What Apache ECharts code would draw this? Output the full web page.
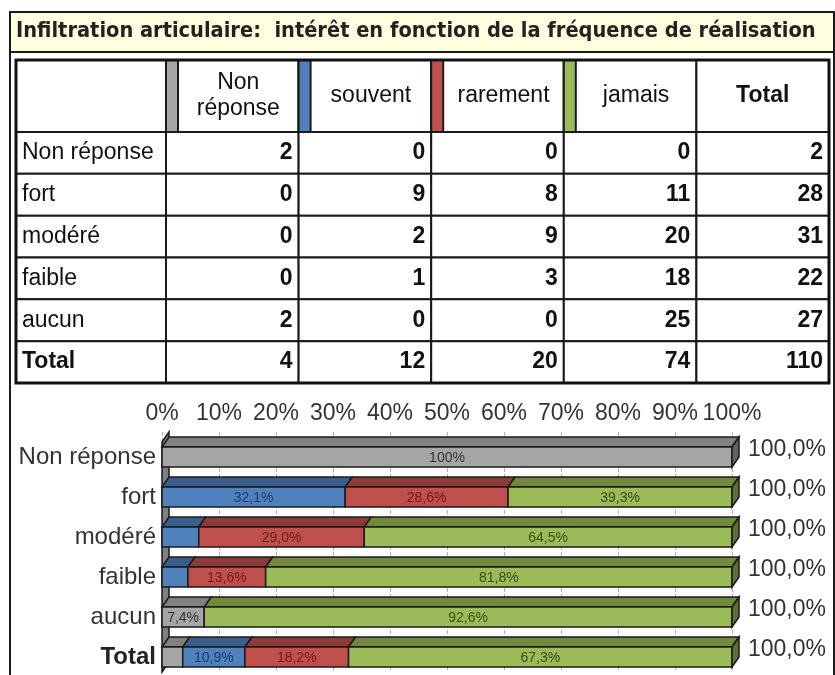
<!DOCTYPE html>
<html>
<head>
<meta charset="utf-8">
<script src="https://cdn.jsdelivr.net/npm/echarts@6/dist/echarts.min.js"></script>
<style>
  html, body { margin: 0; padding: 0; background: #fff; }
  #chart { width: 835px; height: 675px; }
</style>
</head>
<body>
<div id="chart"></div>
<script>
// rows of the table / categories of the bar chart
const rowNames = ['Non réponse', 'fort', 'modéré', 'faible', 'aucun', 'Total'];
// table columns
const colNames = ['Non\nréponse', 'souvent', 'rarement', 'jamais', 'Total'];
const nonReponse = [2, 0, 0, 0, 2, 4];
const souvent = [0, 9, 2, 1, 0, 12];
const rarement = [0, 8, 9, 3, 0, 20];
const jamais = [0, 11, 20, 18, 25, 74];
const totalCol = [2, 28, 31, 22, 27, 110];

const tableCols = [nonReponse, souvent, rarement, jamais, totalCol];
const stackCols = [nonReponse, souvent, rarement, jamais];

const frontColors = ['#A5A5A5', '#4F81BD', '#C0504D', '#9BBB59'];
const topColors = ['#808080', '#3B5F8D', '#8D3B39', '#71893F'];
const sideColors = ['#626262', '#2F4C72', '#722F2E', '#5C7033'];
const labelColors = ['#333333', '#1F3A6B', '#6E1C1A', '#3A4D16'];

const DX = 7, DY = 10, FRONT_H = 20;
const LABEL_W = 150, HEADER_H = 72, STRIP_W = 12;
const FONT = "'Liberation Sans', Arial, sans-serif";
const LINE = '#1a1a1a';

function fmt(v) {
  return v >= 99.95 ? '100%' : v.toFixed(1).replace('.', ',') + '%';
}

// percentages per row
const pct = stackCols.map(col => col.map((n, r) => n / totalCol[r] * 100));

function barRender(s) {
  return function (params, api) {
    const r = api.value(0), v0 = api.value(1), v1 = api.value(2), v = api.value(3);
    if (v <= 0) return;
    const a = api.coord([v0, r]);
    const b = api.coord([v1, r]);
    const xl = a[0], xr = b[0];
    const yt = a[1] - 5, yb = yt + FRONT_H;
    const children = [
      { type: 'polygon', shape: { points: [[xl, yt], [xr, yt], [xr + DX, yt - DY], [xl + DX, yt - DY]] },
        style: { fill: topColors[s], stroke: LINE, lineWidth: 1.5 } },
      { type: 'rect', shape: { x: xl, y: yt, width: xr - xl, height: FRONT_H },
        style: { fill: frontColors[s], stroke: LINE, lineWidth: 1.5 } }
    ];
    if (v1 > 99.9) {
      children.push({ type: 'polygon', shape: { points: [[xr, yt], [xr + DX, yt - DY], [xr + DX, yb - DY], [xr, yb]] },
        style: { fill: sideColors[s], stroke: LINE, lineWidth: 1.5 } });
    }
    if (v >= 7) {
      children.push({ type: 'text', x: (xl + xr) / 2, y: yt + FRONT_H / 2 + 1,
        style: { text: fmt(v), fill: labelColors[s], font: '14px ' + FONT,
          align: 'center', verticalAlign: 'middle' } });
    }
    return { type: 'group', children };
  };
}

const barSeries = stackCols.map((col, s) => ({
  name: colNames[s],
  type: 'custom',
  xAxisIndex: 0, yAxisIndex: 0,
  renderItem: barRender(s),
  encode: { x: [1, 2], y: 0 },
  z: 3,
  data: rowNames.map((_, r) => {
    let start = 0;
    for (let k = 0; k < s; k++) start += pct[k][r];
    return [r, start, start + pct[s][r], pct[s][r]];
  })
}));

const rowSums = rowNames.map((_, r) => pct.reduce((acc, p) => acc + p[r], 0));

const endLabels = {
  type: 'custom',
  xAxisIndex: 0, yAxisIndex: 0,
  encode: { x: 1, y: 0 },
  z: 4,
  data: rowNames.map((_, r) => [r, rowSums[r]]),
  renderItem: function (params, api) {
    const p = api.coord([api.value(1), api.value(0)]);
    return { type: 'text', x: p[0] + DX + 9, y: p[1] - 2,
      style: { text: api.value(1).toFixed(1).replace('.', ',') + '%', fill: '#333', font: '23px ' + FONT,
        align: 'left', verticalAlign: 'middle' } };
  }
};

const walls = {
  type: 'custom',
  xAxisIndex: 0, yAxisIndex: 0,
  encode: { x: 0, y: 1 },
  z: 2,
  silent: true,
  data: [[0, 0]],
  renderItem: function (params) {
    const cs = params.coordSys;
    return { type: 'polygon',
      shape: { points: [[cs.x, cs.y + DY], [cs.x + DX, cs.y], [cs.x + DX, cs.y + cs.height - DY], [cs.x, cs.y + cs.height]] },
      style: { fill: '#808080', stroke: LINE, lineWidth: 1.5 } };
  }
};

// table
const tableData = [];
rowNames.forEach((_, r) => tableCols.forEach((col, c) => tableData.push([c, r, col[r]])));

function cell(x, y, w, h) {
  return { type: 'rect', shape: { x, y, width: w, height: h }, style: { fill: '#fff', stroke: LINE, lineWidth: 2 } };
}

const tableSeries = {
  type: 'custom',
  xAxisIndex: 1, yAxisIndex: 1,
  encode: { x: 0, y: 1 },
  z: 3,
  data: tableData,
  renderItem: function (params, api) {
    const c = api.value(0), r = api.value(1), v = api.value(2);
    const p = api.coord([c, r]);
    const sz = api.size([1, 1]);
    const w = sz[0], h = sz[1];
    const x0 = p[0] - w / 2, y0 = p[1] - h / 2;
    const children = [];
    if (r === 0) {
      children.push(cell(x0, y0 - HEADER_H, w, HEADER_H));
      let tx = x0 + w / 2;
      if (c < 4) {
        children.push({ type: 'rect', shape: { x: x0, y: y0 - HEADER_H, width: STRIP_W, height: HEADER_H },
          style: { fill: frontColors[c], stroke: LINE, lineWidth: 2 } });
        tx = x0 + STRIP_W + (w - STRIP_W) / 2;
      }
      children.push({ type: 'text', x: tx, y: y0 - HEADER_H / 2,
        style: { text: colNames[c], fill: '#111', font: (c === 4 ? 'bold ' : '') + '23px ' + FONT,
          lineHeight: 26, align: 'center', verticalAlign: 'middle' } });
      if (c === 0) children.push(cell(x0 - LABEL_W, y0 - HEADER_H, LABEL_W, HEADER_H));
    }
    if (c === 0) {
      children.push(cell(x0 - LABEL_W, y0, LABEL_W, h));
      children.push({ type: 'text', x: x0 - LABEL_W + 6, y: p[1],
        style: { text: rowNames[r], fill: '#111', font: (r === 5 ? 'bold ' : '') + '23px ' + FONT,
          align: 'left', verticalAlign: 'middle' } });
    }
    children.push(cell(x0, y0, w, h));
    children.push({ type: 'text', x: x0 + w - 6, y: p[1],
      style: { text: String(v), fill: '#111', font: 'bold 23px ' + FONT, align: 'right', verticalAlign: 'middle' } });
    return { type: 'group', children };
  }
};

const chart = echarts.init(document.getElementById('chart'));
chart.setOption({
  backgroundColor: '#fff',
  animation: false,
  title: {
    text: 'Infiltration articulaire:  intérêt en fonction de la fréquence de réalisation',
    left: 11, top: 20, padding: [0, 5],
    textStyle: { fontFamily: "'Liberation Sans Narrow', 'Arial Narrow', 'DejaVu Sans Condensed', sans-serif",
      fontWeight: 'bold', fontSize: 21.6, color: '#222' }
  },
  graphic: [
    { type: 'rect', z: -10, shape: { x: 10, y: 12, width: 824, height: 700 },
      style: { fill: '#fff', stroke: LINE, lineWidth: 2 } },
    { type: 'rect', z: -9, shape: { x: 10, y: 12, width: 824, height: 40 },
      style: { fill: '#FFFFE0', stroke: LINE, lineWidth: 2 } },
    { type: 'rect', z: 100, shape: { x: 16, y: 60, width: 813, height: 323 },
      style: { fill: 'none', stroke: '#111', lineWidth: 3 } }
  ],
  grid: [
    { left: 162, right: 103, top: 432, height: 240 },
    { left: 166, right: 6, top: 132, height: 251 }
  ],
  xAxis: [
    { type: 'value', gridIndex: 0, position: 'top', min: 0, max: 100, interval: 10,
      axisLine: { show: false }, axisTick: { show: false },
      splitLine: { show: true, lineStyle: { type: 'dashed', color: '#b0b0b0' } },
      axisLabel: { formatter: '{value}%', color: '#333', fontSize: 23, fontFamily: FONT, margin: 7 } },
    { type: 'category', gridIndex: 1, data: colNames, show: false }
  ],
  yAxis: [
    { type: 'category', gridIndex: 0, data: rowNames, inverse: true,
      axisLine: { show: false }, axisTick: { show: false },
      axisLabel: { color: '#333', fontSize: 24, fontFamily: FONT, margin: 6, padding: [10, 0, 0, 0],
        formatter: v => v === 'Total' ? '{b|' + v + '}' : v,
        rich: { b: { fontWeight: 'bold', fontSize: 24, fontFamily: FONT, color: '#222' } } } },
    { type: 'category', gridIndex: 1, data: rowNames, inverse: true, show: false }
  ],
  series: [walls, ...barSeries, endLabels, tableSeries]
});
</script>
</body>
</html>
